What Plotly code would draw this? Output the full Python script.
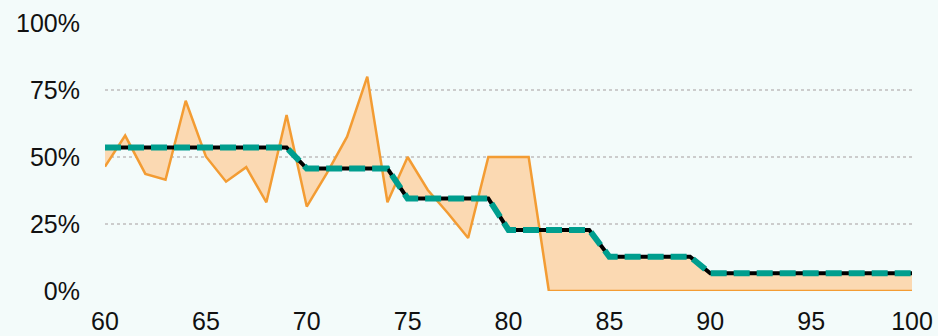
import plotly.graph_objects as go

x = list(range(60, 101))

observed = [0.464, 0.58, 0.437, 0.415, 0.71, 0.502, 0.408, 0.462, 0.331, 0.657,
            0.315, 0.44, 0.576, 0.80, 0.331, 0.50, 0.377, 0.29, 0.198, 0.50,
            0.50, 0.50, 0.0, 0.0, 0.0, 0.0, 0.0, 0.0, 0.0, 0.0,
            0.0, 0.0, 0.0, 0.0, 0.0, 0.0, 0.0, 0.0, 0.0, 0.0, 0.0]

expected = [0.535] * 10 + [0.457] * 5 + [0.345] * 5 + [0.228] * 5 + [0.128] * 5 + [0.066] * 11

y_ticks = [0, 0.25, 0.5, 0.75, 1.0]
x_ticks = list(range(60, 101, 5))

BG = "#f3fbfa"

fig = go.Figure()

# base for the fill
fig.add_trace(go.Scatter(x=x, y=expected, mode="lines", line=dict(width=0),
                         hoverinfo="skip", showlegend=False))
fig.add_trace(go.Scatter(x=x, y=observed, mode="lines", fill="tonexty",
                         fillcolor="#fbd9b2",
                         line=dict(color="#f39c33", width=2.5),
                         showlegend=False))
fig.add_trace(go.Scatter(x=x, y=expected, mode="lines",
                         line=dict(color="#000000", width=4),
                         showlegend=False))
fig.add_trace(go.Scatter(x=x, y=expected, mode="lines",
                         line=dict(color="#009e8e", width=6, dash="16px,7px"),
                         showlegend=False))

fig.update_layout(
    width=938,
    height=336,
    margin=dict(l=105, r=26, t=23, b=45),
    paper_bgcolor=BG,
    plot_bgcolor=BG,
    font=dict(family="Liberation Sans, Arial, sans-serif", size=25, color="#111111"),
    xaxis=dict(
        range=[60, 100],
        tickvals=x_ticks,
        showgrid=False,
        zeroline=False,
        showline=False,
        ticks="",
        ticklabelstandoff=13,
        automargin=False,
    ),
    yaxis=dict(
        range=[0, 1],
        tickvals=y_ticks,
        tickformat=".0%",
        showgrid=True,
        gridcolor="#cccccc",
        griddash="dot",
        gridwidth=1.5,
        zeroline=False,
        showline=False,
        ticks="",
        ticklabelstandoff=24,
        automargin=False,
    ),
)

fig.write_html("out.html", config={"displayModeBar": False},
               post_script="document.body.style.margin='0px';")
